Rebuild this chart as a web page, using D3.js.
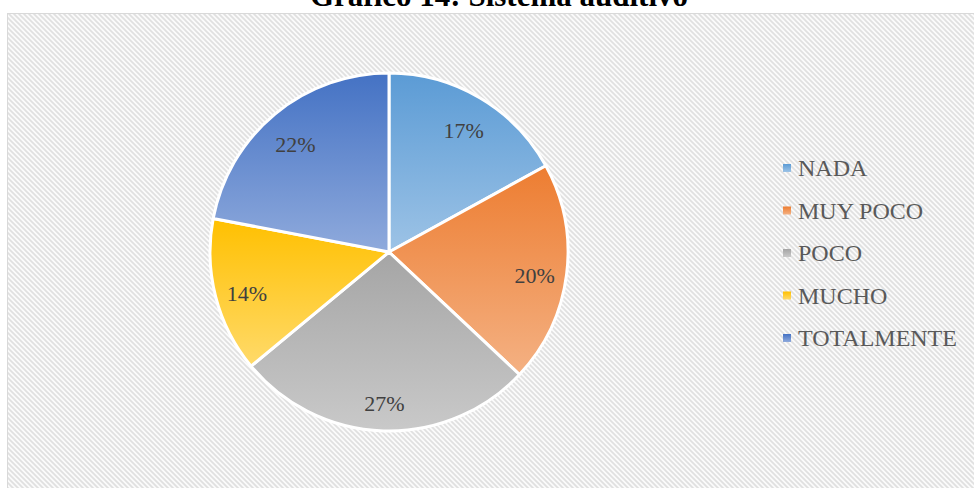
<!DOCTYPE html>
<html>
<head>
<meta charset="utf-8">
<script src="https://cdn.jsdelivr.net/npm/d3@7"></script>
<style>
  body { margin: 0; background: #fff; }
  svg { display: block; }
</style>
</head>
<body>
<div id="chart"></div>
<script>
const categories = ["NADA", "MUY POCO", "POCO", "MUCHO", "TOTALMENTE"];
const values = [17, 20, 27, 14, 22];
const title = "Gráfico 14: Sistema auditivo";

// gradient colours: top, bottom
const topColors = ["#5b9bd5", "#ed7d31", "#a5a5a5", "#ffc000", "#4472c4"];
const bottomColors = ["#9dc3e6", "#f4b183", "#c9c9c9", "#ffda6a", "#8faadc"];

const W = 974, H = 488;
const svg = d3.select("#chart").append("svg")
  .attr("width", W).attr("height", H);

const defs = svg.append("defs");

// hatched chart background, stripes running top-left to bottom-right
const pat = defs.append("pattern")
  .attr("id", "hatch")
  .attr("patternUnits", "userSpaceOnUse")
  .attr("width", 5).attr("height", 5);
pat.append("rect").attr("width", 5).attr("height", 5).attr("fill", "#fbfbfb");
pat.append("path")
  .attr("d", "M-1,-1 L6,6 M-1,4 L1,6 M4,-1 L6,1")
  .attr("stroke", "#e0e0e0")
  .attr("stroke-width", 1.7);

categories.forEach((c, i) => {
  const g = defs.append("linearGradient")
    .attr("id", "grad" + i)
    .attr("x1", 0).attr("y1", 0).attr("x2", 0).attr("y2", 1);
  g.append("stop").attr("offset", "0%").attr("stop-color", topColors[i]);
  g.append("stop").attr("offset", "100%").attr("stop-color", bottomColors[i]);
});

svg.append("rect")
  .attr("x", 7.5).attr("y", 13.5)
  .attr("width", W).attr("height", H)
  .attr("fill", "url(#hatch)")
  .attr("stroke", "#d9d9d9")
  .attr("stroke-width", 1);

svg.append("text")
  .attr("x", 499).attr("y", 6)
  .attr("text-anchor", "middle")
  .style("font-family", "'Liberation Serif', 'Times New Roman', serif")
  .style("font-weight", "bold")
  .style("font-size", "31px")
  .attr("fill", "#000")
  .text(title);

const cx = 389, cy = 252, r = 179;
const pie = d3.pie().sort(null).value(d => d);
const arcs = pie(values);
const arc = d3.arc().innerRadius(0).outerRadius(r);
const labelArc = d3.arc().innerRadius(r * 0.82).outerRadius(r * 0.82);

const g = svg.append("g").attr("transform", `translate(${cx},${cy})`);

g.selectAll("path.slice")
  .data(arcs)
  .enter()
  .append("path")
  .attr("class", "slice")
  .attr("d", arc)
  .attr("fill", (d, i) => `url(#grad${i})`)
  .attr("stroke", "#fff")
  .attr("stroke-width", 3)
  .attr("stroke-linejoin", "round");

g.selectAll("text.lbl")
  .data(arcs)
  .enter()
  .append("text")
  .attr("class", "lbl")
  .attr("transform", d => {
    const [x, y] = labelArc.centroid(d);
    return `translate(${x},${y + 5})`;
  })
  .attr("text-anchor", "middle")
  .attr("dy", "0.35em")
  .style("font-family", "'Liberation Serif', 'Times New Roman', serif")
  .style("font-size", "22px")
  .attr("fill", "#404040")
  .text(d => Math.round(d.value / d3.sum(values) * 100) + "%");

// legend
const legendY = d3.scalePoint().domain(categories).range([168, 338]);
const legend = svg.append("g");
const items = legend.selectAll("g")
  .data(categories)
  .enter()
  .append("g")
  .attr("transform", d => `translate(783,${legendY(d)})`);

items.append("rect")
  .attr("x", 0).attr("y", -4)
  .attr("width", 8).attr("height", 8)
  .attr("fill", (d, i) => `url(#grad${i})`);

items.append("text")
  .attr("x", 15).attr("y", 0)
  .attr("dy", "0.35em")
  .style("font-family", "'Liberation Serif', 'Times New Roman', serif")
  .style("font-size", "24px")
  .attr("fill", "#595959")
  .text(d => d);
</script>
</body>
</html>
